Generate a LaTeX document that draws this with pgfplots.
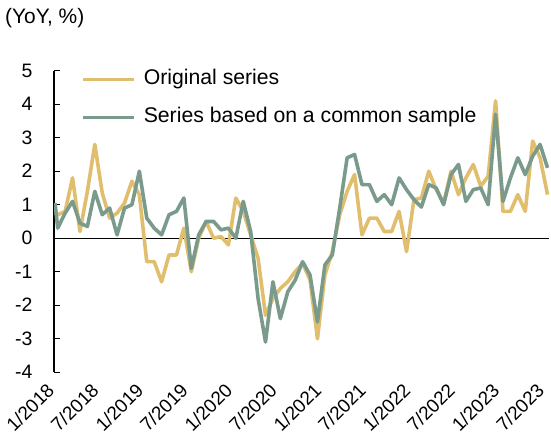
\documentclass[border=0pt]{standalone}
\usepackage{fontspec}
\setmainfont{Liberation Sans}
\usepackage{pgfplots}
\usepackage{pgfplotstable}
\pgfplotsset{compat=1.18}
\definecolor{cyel}{RGB}{224,190,110}
\definecolor{cgrn}{RGB}{122,155,140}

\pgfplotstableread{
x orig common
-0.36 0.75 1.05
0 0.7 0.3
1 0.8 0.75
2 1.8 1.1
3 0.2 0.45
4 1.4 0.35
5 2.8 1.4
6 1.35 0.7
7 0.6 0.9
8 0.75 0.1
9 1.05 0.9
10 1.7 1.0
11 1.3 2.0
12 -0.7 0.6
13 -0.7 0.3
14 -1.3 0.1
15 -0.5 0.7
16 -0.5 0.8
17 0.3 1.2
18 -1.0 -0.9
19 0.0 0.1
20 0.5 0.5
21 0.0 0.5
22 0.05 0.25
23 -0.2 0.3
24 1.2 0.0
25 0.8 1.1
26 0.1 0.2
27 -0.6 -1.8
28 -2.3 -3.1
29 -1.8 -1.3
30 -1.5 -2.4
31 -1.3 -1.6
32 -1.0 -1.25
33 -0.75 -0.7
34 -1.25 -1.1
35 -3.0 -2.5
36 -1.1 -0.8
37 -0.4 -0.5
38 0.7 0.9
39 1.4 2.4
40 1.9 2.5
41 0.1 1.6
42 0.6 1.6
43 0.6 1.1
44 0.2 1.3
45 0.2 1.0
46 0.8 1.8
47 -0.4 1.45
48 1.15 1.15
49 1.2 0.93
50 2.0 1.6
51 1.45 1.5
52 1.05 1.0
53 2.0 1.9
54 1.3 2.2
55 1.8 1.1
56 2.2 1.45
57 1.55 1.5
58 1.85 1.0
59 4.1 3.7
60 0.8 1.1
61 0.8 1.8
62 1.3 2.4
63 0.8 1.9
64 2.9 2.45
65 2.4 2.8
66 1.3 2.1
}\data

\begin{document}
\begin{tikzpicture}
\useasboundingbox (-54bp,-71bp) rectangle (497bp,372.2bp);
\begin{axis}[
  name=ax, at={(0,0)}, anchor=south west,
  clip mode=individual,
  scale only axis, width=495bp, height=301.5bp,
  xmin=-0.5, xmax=66.2, ymin=-4, ymax=5,
  axis y line*=left, axis x line*=bottom,
  x axis line style={draw=none},
  y axis line style={black, line width=1.3bp},
  tick align=inside,
  ytick={-4,...,5},
  yticklabels={-4,-3,-2,-1,0,1,2,3,4,5},
  ytick style={black, line width=1.3bp},
  major tick length=6bp,
  yticklabel style={font=\fontsize{19.5}{22}\selectfont, xshift=-18bp},
  xtick={0,6,...,66},
  xticklabels={1/2018,7/2018,1/2019,7/2019,1/2020,7/2020,1/2021,7/2021,1/2022,7/2022,1/2023,7/2023},
  xtick style={draw=none},
  xticklabel shift=7bp,
  xticklabel style={xshift=-12bp, rotate=45, anchor=north east, font=\fontsize{19}{21}\selectfont, inner sep=2bp},
  extra y ticks={0}, extra y tick labels={},
  extra y tick style={grid=major, major grid style={black, line width=1.3bp}, tick style={draw=none}},
  legend style={draw=none, fill=none, at={(rel axis cs:0.0606,1)}, anchor=north west, yshift=3bp, xshift=-6bp,
    font=\fontsize{21.3}{24}\selectfont, column sep=8bp, row sep=19bp,
    nodes={inner sep=0pt, text height=15bp, text depth=4bp}},
  legend cell align=left,
  legend image code/.code={\draw[#1] (0bp,0bp) -- (51bp,0bp);},
]
\addplot[cyel, line width=3.6bp, line join=round] table[x=x, y=orig] {\data};
\addlegendentry{Original series}
\addplot[cgrn, line width=3.6bp, line join=round] table[x=x, y=common] {\data};
\addlegendentry{Series based on a common sample}
\end{axis}
\node[anchor=west, inner sep=0pt, font=\fontsize{21}{24}\selectfont] at (-49bp,354.2bp) {(YoY, \%)};
\end{tikzpicture}
\end{document}
